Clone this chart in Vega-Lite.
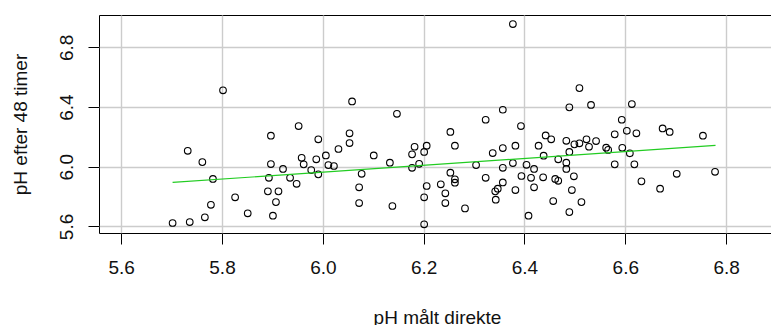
{
  "$schema": "https://vega.github.io/schema/vega-lite/v6.json",
  "autosize": {"type": "none"},
  "padding": {"left": 99, "top": 15, "right": 0, "bottom": 92},
  "width": 672,
  "height": 218,
  "background": "white",
  "config": {
    "view": {"stroke": "#000", "strokeWidth": 1},
    "font": "Liberation Sans",
    "axis": {
      "domain": false,
      "grid": true,
      "tickColor": "#000",
      "tickSize": 11,
      "tickWidth": 1,
      "gridColor": "#cccccc",
      "gridWidth": 1.4,
      "gridOpacity": 1,
      "labelFont": "Liberation Sans",
      "labelFontSize": 19,
      "labelColor": "#111",
      "titleFont": "Liberation Sans",
      "titleFontSize": 19,
      "titleFontWeight": "normal",
      "titleColor": "#111"
    }
  },
  "datasets": {
    "pts": [
      {"direkte": 5.802, "etter48": 6.512},
      {"direkte": 5.732, "etter48": 6.107},
      {"direkte": 5.761, "etter48": 6.031},
      {"direkte": 5.782, "etter48": 5.918},
      {"direkte": 5.826, "etter48": 5.795},
      {"direkte": 5.778, "etter48": 5.745},
      {"direkte": 5.851, "etter48": 5.688},
      {"direkte": 5.766, "etter48": 5.661},
      {"direkte": 5.736, "etter48": 5.629},
      {"direkte": 5.702, "etter48": 5.623},
      {"direkte": 5.897, "etter48": 6.208},
      {"direkte": 5.991, "etter48": 6.184},
      {"direkte": 5.958, "etter48": 6.06},
      {"direkte": 5.962, "etter48": 6.016},
      {"direkte": 5.987, "etter48": 6.05},
      {"direkte": 6.006, "etter48": 6.076},
      {"direkte": 6.011, "etter48": 6.011},
      {"direkte": 5.897, "etter48": 6.018},
      {"direkte": 5.921, "etter48": 5.985},
      {"direkte": 5.893, "etter48": 5.926},
      {"direkte": 5.935, "etter48": 5.926},
      {"direkte": 5.948, "etter48": 5.886},
      {"direkte": 5.977, "etter48": 5.978},
      {"direkte": 5.991, "etter48": 5.949},
      {"direkte": 5.891, "etter48": 5.835},
      {"direkte": 5.912, "etter48": 5.835},
      {"direkte": 5.907, "etter48": 5.763},
      {"direkte": 5.901, "etter48": 5.672},
      {"direkte": 5.952, "etter48": 6.273},
      {"direkte": 6.058, "etter48": 6.438},
      {"direkte": 6.147, "etter48": 6.355},
      {"direkte": 6.053, "etter48": 6.224},
      {"direkte": 6.253, "etter48": 6.233},
      {"direkte": 6.323, "etter48": 6.315},
      {"direkte": 6.357, "etter48": 6.382},
      {"direkte": 6.377, "etter48": 6.956},
      {"direkte": 6.393, "etter48": 6.273},
      {"direkte": 6.442, "etter48": 6.21},
      {"direkte": 6.053, "etter48": 6.159},
      {"direkte": 6.031, "etter48": 6.119},
      {"direkte": 6.022, "etter48": 6.005},
      {"direkte": 6.077, "etter48": 5.953},
      {"direkte": 6.072, "etter48": 5.862},
      {"direkte": 6.072, "etter48": 5.757},
      {"direkte": 6.101, "etter48": 6.076},
      {"direkte": 6.133, "etter48": 6.027},
      {"direkte": 6.138, "etter48": 5.737},
      {"direkte": 6.182, "etter48": 6.134},
      {"direkte": 6.206, "etter48": 6.141},
      {"direkte": 6.177, "etter48": 6.083},
      {"direkte": 6.201, "etter48": 6.099},
      {"direkte": 6.191, "etter48": 6.02},
      {"direkte": 6.177, "etter48": 5.993},
      {"direkte": 6.262, "etter48": 6.141},
      {"direkte": 6.206, "etter48": 5.871},
      {"direkte": 6.201, "etter48": 5.795},
      {"direkte": 6.201, "etter48": 5.614},
      {"direkte": 6.253, "etter48": 5.96},
      {"direkte": 6.262, "etter48": 5.916},
      {"direkte": 6.262, "etter48": 5.893},
      {"direkte": 6.234, "etter48": 5.882},
      {"direkte": 6.243, "etter48": 5.822},
      {"direkte": 6.243, "etter48": 5.757},
      {"direkte": 6.282, "etter48": 5.721},
      {"direkte": 6.304, "etter48": 6.011},
      {"direkte": 6.323, "etter48": 5.926},
      {"direkte": 6.337, "etter48": 6.092},
      {"direkte": 6.357, "etter48": 6.125},
      {"direkte": 6.382, "etter48": 6.141},
      {"direkte": 6.357, "etter48": 5.993},
      {"direkte": 6.377, "etter48": 6.025},
      {"direkte": 6.357, "etter48": 5.895},
      {"direkte": 6.347, "etter48": 5.853},
      {"direkte": 6.342, "etter48": 5.835},
      {"direkte": 6.343, "etter48": 5.779},
      {"direkte": 6.382, "etter48": 5.844},
      {"direkte": 6.394, "etter48": 5.938},
      {"direkte": 6.404, "etter48": 6.013},
      {"direkte": 6.419, "etter48": 5.985},
      {"direkte": 6.413, "etter48": 5.926},
      {"direkte": 6.419, "etter48": 5.862},
      {"direkte": 6.437, "etter48": 5.929},
      {"direkte": 6.408, "etter48": 5.672},
      {"direkte": 6.428, "etter48": 6.141},
      {"direkte": 6.438, "etter48": 6.074},
      {"direkte": 6.509, "etter48": 6.527},
      {"direkte": 6.489, "etter48": 6.398},
      {"direkte": 6.532, "etter48": 6.414},
      {"direkte": 6.613, "etter48": 6.42},
      {"direkte": 6.593, "etter48": 6.315},
      {"direkte": 6.603, "etter48": 6.241},
      {"direkte": 6.622, "etter48": 6.224},
      {"direkte": 6.579, "etter48": 6.217},
      {"direkte": 6.674, "etter48": 6.257},
      {"direkte": 6.688, "etter48": 6.233},
      {"direkte": 6.754, "etter48": 6.208},
      {"direkte": 6.453, "etter48": 6.184},
      {"direkte": 6.483, "etter48": 6.174},
      {"direkte": 6.499, "etter48": 6.15},
      {"direkte": 6.509, "etter48": 6.157},
      {"direkte": 6.523, "etter48": 6.184},
      {"direkte": 6.542, "etter48": 6.172},
      {"direkte": 6.528, "etter48": 6.134},
      {"direkte": 6.467, "etter48": 6.05},
      {"direkte": 6.489, "etter48": 6.099},
      {"direkte": 6.483, "etter48": 6.027},
      {"direkte": 6.483, "etter48": 5.985},
      {"direkte": 6.461, "etter48": 5.918},
      {"direkte": 6.467, "etter48": 5.906},
      {"direkte": 6.498, "etter48": 5.936},
      {"direkte": 6.494, "etter48": 5.844},
      {"direkte": 6.457, "etter48": 5.77},
      {"direkte": 6.513, "etter48": 5.763},
      {"direkte": 6.489, "etter48": 5.696},
      {"direkte": 6.562, "etter48": 6.128},
      {"direkte": 6.566, "etter48": 6.113},
      {"direkte": 6.594, "etter48": 6.127},
      {"direkte": 6.609, "etter48": 6.09},
      {"direkte": 6.579, "etter48": 6.016},
      {"direkte": 6.618, "etter48": 6.016},
      {"direkte": 6.632, "etter48": 5.902},
      {"direkte": 6.669, "etter48": 5.853},
      {"direkte": 6.702, "etter48": 5.953},
      {"direkte": 6.778, "etter48": 5.966}
    ],
    "fit": [
      {"direkte": 5.702, "etter48": 5.895},
      {"direkte": 6.779, "etter48": 6.143}
    ]
  },
  "layer": [
    {
      "data": {"name": "pts"},
      "mark": {"type": "point", "shape": "circle", "filled": false, "stroke": "#000", "strokeWidth": 1.1, "size": 44, "opacity": 1},
      "encoding": {
        "x": {
          "field": "direkte", "type": "quantitative",
          "scale": {"domain": [5.556, 6.889], "nice": false, "zero": false},
          "axis": {
            "title": "pH målt direkte",
            "grid": true,
            "values": [5.6, 5.8, 6.0, 6.2, 6.4, 6.6, 6.8],
            "format": ".1f",
            "labelPadding": 14,
            "labelBaseline": "top",
            "titleX": 338,
            "titleY": 90.5,
            "titleBaseline": "alphabetic",
            "titleAlign": "center"
          }
        },
        "y": {
          "field": "etter48", "type": "quantitative",
          "scale": {"domain": [5.556, 7.017], "nice": false, "zero": false},
          "axis": {
            "title": "pH efter 48 timer",
            "grid": true,
            "values": [5.6, 5.8, 6.0, 6.2, 6.4, 6.6, 6.8, 7.0],
            "labelExpr": "round(datum.value * 10) % 4 == 0 ? format(datum.value, '.1f') : ''",
            "labelAngle": -90,
            "labelAlign": "center",
            "labelBaseline": "alphabetic",
            "labelPadding": 16,
            "titleAngle": -90,
            "titleX": -72.5,
            "titleY": 109,
            "titleAlign": "center",
            "titleBaseline": "alphabetic"
          }
        }
      }
    },
    {
      "data": {"name": "fit"},
      "mark": {"type": "line", "color": "#22cc22", "strokeWidth": 1.2},
      "encoding": {
        "x": {"field": "direkte", "type": "quantitative"},
        "y": {"field": "etter48", "type": "quantitative"}
      }
    }
  ]
}
